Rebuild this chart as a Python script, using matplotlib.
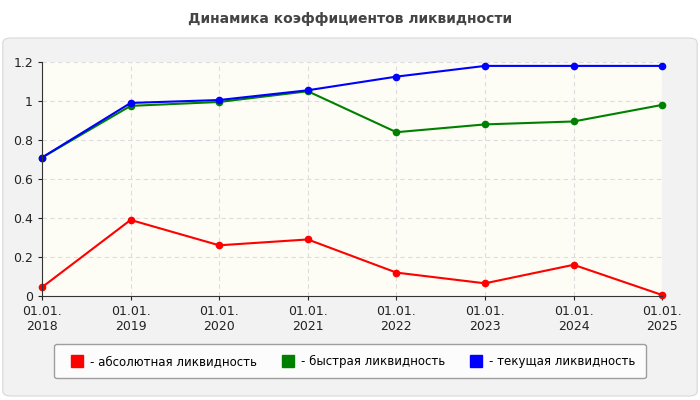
import matplotlib
matplotlib.use("Agg")
import matplotlib.pyplot as plt
from matplotlib.patches import FancyBboxPatch
from matplotlib.lines import Line2D

labels = ["01.01.\n2018","01.01.\n2019","01.01.\n2020","01.01.\n2021","01.01.\n2022","01.01.\n2023","01.01.\n2024","01.01.\n2025"]
absolute = [0.045, 0.39, 0.26, 0.29, 0.12, 0.065, 0.16, 0.005]
quick = [0.71, 0.975, 0.995, 1.05, 0.84, 0.88, 0.895, 0.98]
current = [0.71, 0.99, 1.005, 1.055, 1.125, 1.18, 1.18, 1.18]
yticks = [0, 0.2, 0.4, 0.6, 0.8, 1, 1.2]
ytick_labels = ["0", "0.2", "0.4", "0.6", "0.8", "1", "1.2"]

fig = plt.figure(figsize=(7, 4), dpi=100)
fig.patch.set_facecolor("white")
panel = FancyBboxPatch((0.004, 0.01), 0.992, 0.895, boxstyle="round,pad=0,rounding_size=0.012",
                       transform=fig.transFigure, facecolor="#f2f2f2", edgecolor="#d8d8d8", lw=0.8,
                       zorder=-10)
fig.patches.append(panel)
fig.text(0.5, 0.952, "Динамика коэффициентов ликвидности", ha="center", va="center",
         fontsize=10, fontweight="bold", color="#444444")

ax = fig.add_axes([0.06, 0.26, 0.886, 0.585])
ax.set_facecolor("#fdfdf5")
x = list(range(len(labels)))
ax.plot(x, absolute, color="#ff0000", marker="o", ms=4.5, lw=1.5, clip_on=False)
ax.plot(x, quick, color="#008000", marker="o", ms=4.5, lw=1.5, clip_on=False)
ax.plot(x, current, color="#0000ff", marker="o", ms=4.5, lw=1.5, clip_on=False)
ax.set_xlim(0, 7)
ax.set_ylim(0, 1.2)
ax.set_yticks(yticks)
ax.set_yticklabels(ytick_labels)
ax.set_xticks(x)
ax.set_xticklabels(labels)
ax.tick_params(labelsize=9, colors="#222222", length=3)
ax.grid(True, color="#dddddd", ls=(0, (4, 3)), lw=0.8)
for s in ["top", "right"]:
    ax.spines[s].set_visible(False)
for s in ["left", "bottom"]:
    ax.spines[s].set_color("#333333")

handles = [Line2D([], [], color=c, lw=0, marker="s", ms=9) for c in ["#ff0000", "#008000", "#0000ff"]]
leg = fig.legend(handles, ["- абсолютная ликвидность", "- быстрая ликвидность", "- текущая ликвидность"],
                 loc="center", bbox_to_anchor=(0.5, 0.097), ncol=3, fontsize=8.5, frameon=True,
                 handletextpad=0.1, columnspacing=1.6, borderpad=0.9, fancybox=True)
leg.get_frame().set_edgecolor("#888888")
leg.get_frame().set_facecolor("white")
fig.savefig("out.png", dpi=100)
